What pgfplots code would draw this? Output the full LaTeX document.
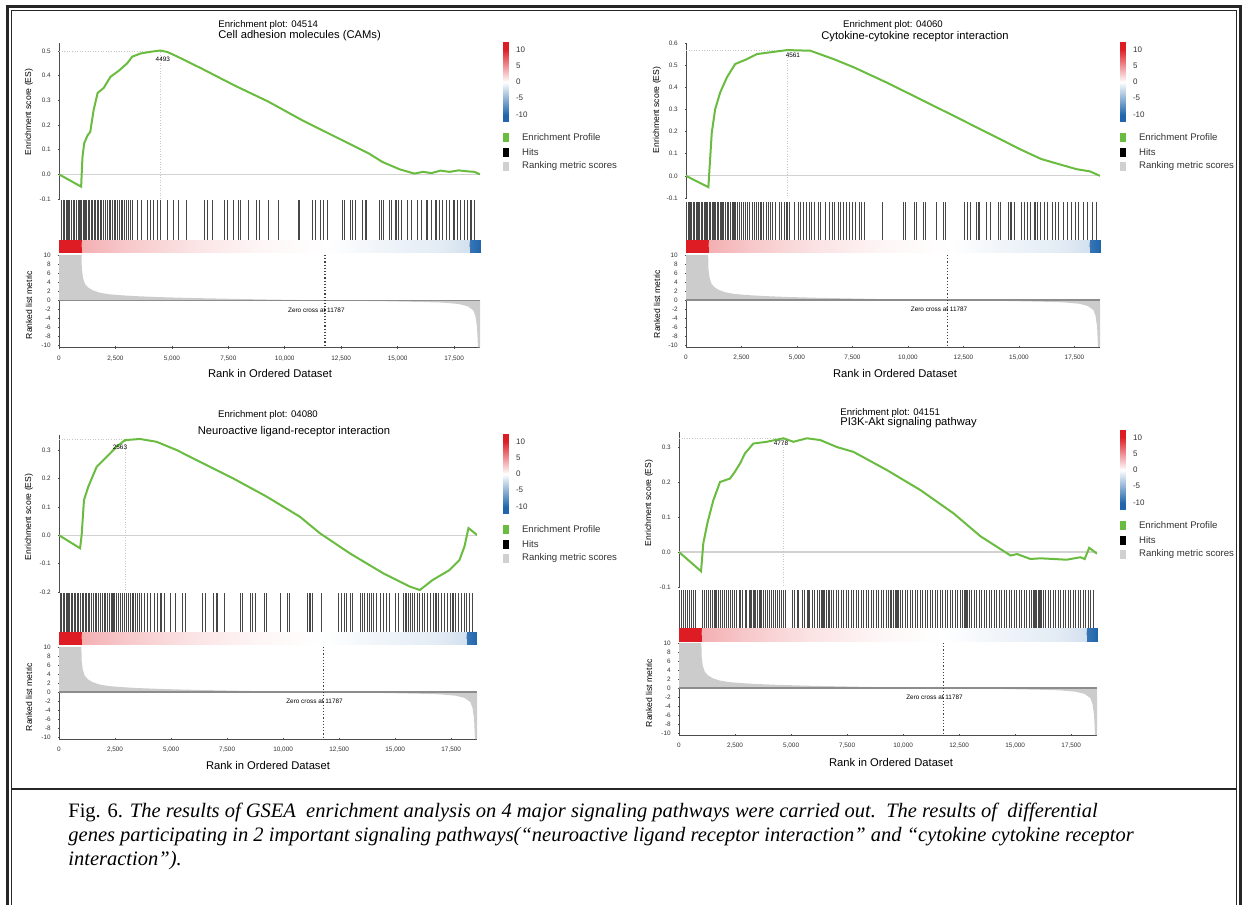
\documentclass[border=0pt]{standalone}
\usepackage{pgfplots}
\pgfplotsset{compat=1.18}
\usepackage{fontspec}
\setmainfont{Liberation Sans}
\newfontfamily\capfont{Liberation Serif}

\definecolor{esgreen}{RGB}{106,188,64}
\definecolor{rkgray}{RGB}{204,204,204}
\definecolor{swgray}{RGB}{208,208,208}

\newcommand{\tfs}{\fontsize{3.2}{3.8}\selectfont}
\newcommand{\lbf}{\fontsize{4.3}{5}\selectfont}
\newcommand{\tta}{\fontsize{4.8}{5.5}\selectfont}
\newcommand{\ttb}{\fontsize{5.6}{6.5}\selectfont}
\newcommand{\lgf}{\fontsize{4.8}{5.5}\selectfont}
\newcommand{\xlf}{\fontsize{5.6}{6.5}\selectfont}
\newcommand{\cpf}{\capfont\fontsize{10.25}{12}\selectfont}

\pgfplotsset{
  colormap={gsea}{rgb255(0cm)=(33,102,172); rgb255(1cm)=(255,255,255); rgb255(2cm)=(222,28,36)},
  noarrows/.style={axis line style={-},
    every outer x axis line/.append style={-}, every outer y axis line/.append style={-},
    every inner x axis line/.append style={-}, every inner y axis line/.append style={-}},
  base/.style={scale only axis, anchor=north west, enlargelimits=false, clip=true,
    /pgf/number format/assume math mode=true,
    tick label style={font=\tfs, text=black!80},
    axis line style={black!70, line width=0.35pt},
    tick style={black!70, line width=0.3pt},
    major tick length=1.2pt, tick align=outside,
    xmin=0, xmax=18650},
  es/.style={base, axis x line=none, axis y line=left, noarrows,
    yticklabel style={/pgf/number format/fixed, /pgf/number format/fixed zerofill,
      /pgf/number format/precision=1}},
  hits/.style={base, hide axis, ymin=0, ymax=1},
  rk/.style={base, axis lines=left, noarrows, ymin=-10.4, ymax=10, ytick={-10,-8,...,10},
    xtick={0,2500,...,17500}, scaled x ticks=false,
    xticklabel style={/pgf/number format/1000 sep={,}}},
  hitline/.style={ycomb, no marks, black!72, line width=0.55pt},
  % place an axis by the picture pixel (x from left, y from top) of its top left corner
  px/.style 2 args={at={({(#1)*0.5pt},{(905-(#2))*0.5pt})}},
}

% colour strip under the hits (values of the ranked metric, clipped at +-10)
\newcommand{\stripplot}{\addplot[patch, patch type=rectangle, shader=interp, point meta=explicit,
  point meta min=-10, point meta max=10] coordinates {
  (0,0)[10] (980,0)[10] (980,1)[10] (0,1)[10]
  (980,0)[10] (1030,0)[3.5] (1030,1)[3.5] (980,1)[10]
  (1030,0)[3.5] (3000,0)[2.4] (3000,1)[2.4] (1030,1)[3.5]
  (3000,0)[2.4] (6000,0)[1.2] (6000,1)[1.2] (3000,1)[2.4]
  (6000,0)[1.2] (9000,0)[0.4] (9000,1)[0.4] (6000,1)[1.2]
  (9000,0)[0.4] (11787,0)[0] (11787,1)[0] (9000,1)[0.4]
  (11787,0)[0] (14000,0)[-0.6] (14000,1)[-0.6] (11787,1)[0]
  (14000,0)[-0.6] (17000,0)[-1.3] (17000,1)[-1.3] (14000,1)[-0.6]
  (17000,0)[-1.3] (18150,0)[-2] (18150,1)[-2] (17000,1)[-1.3]
  (18150,0)[-2] (18220,0)[-9] (18220,1)[-9] (18150,1)[-2]
  (18220,0)[-9] (18650,0)[-10] (18650,1)[-10] (18220,1)[-9]};}

% ranked list metric
\newcommand{\metricplot}{%
  \addplot[fill=rkgray, draw=none] coordinates {(0,0) (0,10) (1000,10) (1010,7) (1060,5)
    (1150,3.6) (1300,2.8) (1500,2.2) (1800,1.7) (2200,1.35) (2800,1.1) (3500,0.9)
    (4500,0.7) (6000,0.5) (7500,0.35) (9000,0.2) (10500,0.08) (11787,0) (13000,-0.1)
    (14500,-0.2) (16000,-0.35) (17000,-0.5) (17700,-0.8) (18100,-1.3) (18350,-2.2)
    (18450,-3.5) (18520,-6) (18560,-10.4) (18650,-10.4) (18650,0)};
  \addplot[black!45, line width=0.6pt] coordinates {(0,0) (18650,0)};
  \addplot[black!75, densely dotted, line width=0.6pt] coordinates {(11787,10) (11787,-10.4)};
  \node[font=\tfs] at (axis cs:11400,-2.1) {Zero cross at 11787};}

% colour scale beside a panel
\newcommand{\cbar}[2]{%
  \begin{axis}[base, px={#1}{#2}, width=2.5pt, height=40pt, xmin=0, xmax=1,
    ymin=-12.3, ymax=12.3, axis x line=none, axis y line=right, noarrows,
    y axis line style={draw=none}, ytick={-10,-5,0,5,10},
    yticklabel style={font=\fontsize{4}{4.5}\selectfont}, major tick length=1pt]
  \addplot[patch, patch type=rectangle, shader=interp, point meta=explicit,
    point meta min=-10, point meta max=10] coordinates {
    (0,-12.3)[-10] (1,-12.3)[-10] (1,-10)[-10] (0,-10)[-10]
    (0,-10)[-10] (1,-10)[-10] (1,0)[0] (0,0)[0]
    (0,0)[0] (1,0)[0] (1,10)[10] (0,10)[10]
    (0,10)[10] (1,10)[10] (1,12.3)[10] (0,12.3)[10]};
  \end{axis}}
% legend entries below the colour scale (used inside the pixel scope)
\newcommand{\lgd}[2]{%
  \fill[esgreen] (#1,#2+91) rectangle ++(6,9);
  \fill[black] (#1,#2+106) rectangle ++(6,9);
  \fill[swgray] (#1,#2+120) rectangle ++(6,9);
  \node[anchor=west, font=\lgf, text=black!80] at (#1+12,#2+95.5) {Enrichment Profile};
  \node[anchor=west, font=\lgf, text=black!80] at (#1+12,#2+110.5) {Hits};
  \node[anchor=west, font=\lgf, text=black!80] at (#1+12,#2+124.5) {Ranking metric scores};}

\begin{document}
\begin{tikzpicture}
\useasboundingbox (0,0) rectangle (624pt,452.5pt);

% ---------------- panel 1: CAMs ----------------
\begin{axis}[es, px={59}{43}, width=210.5pt, height=78pt, ymin=-0.1, ymax=0.5325,
  ytick={-0.1,0,0.1,0.2,0.3,0.4,0.5}]
\addplot[gray!35, line width=0.6pt] coordinates {(0,0) (18650,0)};
\addplot[gray!45, densely dotted, line width=0.3pt] coordinates {(0,0.5) (4493,0.5)};
\addplot[gray!45, densely dotted, line width=0.3pt] coordinates {(4493,0.505) (4493,-0.1)};
\addplot[esgreen, line width=1pt] coordinates {(0,0) (980,-0.05) (1040,0.07) (1116,0.126)
  (1265,0.158) (1384,0.172) (1533,0.26) (1711,0.33) (1980,0.35) (2277,0.395) (2648,0.42)
  (3020,0.45) (3243,0.477) (3616,0.49) (4062,0.497) (4493,0.502) (4800,0.496) (5253,0.477)
  (6294,0.43) (7781,0.36) (9269,0.295) (10758,0.22) (12245,0.152) (13736,0.084) (14330,0.05)
  (15100,0.02) (15743,0.003) (16115,0.01) (16500,0.005) (16900,0.015) (17300,0.01)
  (17700,0.016) (18100,0.012) (18400,0.01) (18650,0.0)};
\node[font=\tfs] at (axis cs:4600,0.468) {4493};
\end{axis}
\begin{axis}[hits, px={59}{200}, width=210.5pt, height=20pt]
\addplot[hitline] coordinates {(120,1) (180,1) (260,1)
  (330,1) (400,1) (470,1) (560,1) (640,1) (700,1) (760,1) (850,1) (930,1) (1010,1) (1080,1)
  (1150,1) (1230,1) (1300,1) (1350,1) (1420,1) (1480,1) (1560,1) (1630,1) (1700,1) (1760,1)
  (1830,1) (1900,1) (1990,1) (2060,1) (2150,1) (2230,1) (2290,1) (2380,1) (2460,1) (2510,1)
  (2600,1) (2680,1) (2760,1) (2830,1) (2900,1) (2980,1) (3080,1) (3150,1) (3260,1) (3480,1)
  (3650,1) (3920,1) (4050,1) (4200,1) (4350,1) (4480,1) (4820,1) (5080,1) (5300,1) (5640,1)
  (6450,1) (6580,1) (6800,1) (7350,1) (7480,1) (7730,1) (7950,1) (8050,1) (8400,1) (8760,1)
  (8870,1) (9290,1) (9740,1) (10630,1) (11230,1) (11380,1) (11600,1) (11700,1) (11900,1)
  (12550,1) (12660,1) (12920,1) (13020,1) (13120,1) (13450,1) (13600,1) (14180,1) (14280,1)
  (14380,1) (14640,1) (14740,1) (14930,1) (15050,1) (15180,1) (15450,1) (15600,1) (15900,1)
  (16050,1) (16300,1) (16500,1) (16700,1) (16850,1) (17000,1) (17150,1) (17300,1) (17500,1)
  (17650,1) (17800,1) (17950,1) (18100,1) (18250,1) (18400,1)};
\end{axis}
\begin{axis}[hits, px={59}{240}, width=210.5pt, height=6.5pt]
\stripplot
\end{axis}
\begin{axis}[rk, px={59}{255}, width=210.5pt, height=46.25pt]
\metricplot
\end{axis}
\cbar{503}{42}

% ---------------- panel 2: cytokine ----------------
\begin{axis}[es, px={686}{43}, width=207pt, height=77.5pt, ymin=-0.1, ymax=0.6,
  ytick={-0.1,0,0.1,0.2,0.3,0.4,0.5,0.6}]
\addplot[gray!35, line width=0.6pt] coordinates {(0,0) (18650,0)};
\addplot[gray!45, densely dotted, line width=0.3pt] coordinates {(0,0.568) (4561,0.568)};
\addplot[gray!45, densely dotted, line width=0.3pt] coordinates {(4561,0.57) (4561,-0.1)};
\addplot[esgreen, line width=1pt] coordinates {(0,0) (1008,-0.051) (1160,0.194) (1311,0.3)
  (1537,0.376) (1838,0.444) (2215,0.505) (2743,0.527) (3195,0.55) (3797,0.558) (4561,0.568)
  (5604,0.565) (6658,0.527) (7562,0.49) (9069,0.42) (10575,0.345) (12082,0.27) (13589,0.194)
  (15096,0.118) (15999,0.076) (16900,0.05) (17600,0.03) (18200,0.02) (18650,0.0)};
\node[font=\tfs] at (axis cs:4814,0.545) {4561};
\end{axis}
\begin{axis}[hits, px={686}{202}, width=207pt, height=19pt]
\addplot[hitline] coordinates {(40,1) (110,1) (180,1)
  (260,1) (330,1) (400,1) (470,1) (540,1) (610,1) (690,1) (760,1) (830,1) (900,1) (980,1)
  (1050,1) (1120,1) (1190,1) (1260,1) (1330,1) (1400,1) (1480,1) (1550,1) (1620,1) (1700,1)
  (1780,1) (1850,1) (1930,1) (2000,1) (2080,1) (2160,1) (2240,1) (2330,1) (2420,1) (2500,1)
  (2600,1) (2700,1) (2790,1) (2880,1) (2980,1) (3080,1) (3180,1) (3280,1) (3380,1) (3500,1)
  (3620,1) (3700,1) (3800,1) (3900,1) (4050,1) (4200,1) (4300,1) (4420,1) (4550,1) (4650,1)
  (4900,1) (5050,1) (5150,1) (5300,1) (5420,1) (5550,1) (5650,1) (5800,1) (5950,1) (6050,1)
  (6300,1) (6450,1) (6600,1) (6700,1) (6850,1) (6950,1) (7100,1) (7250,1) (7350,1) (7500,1)
  (7650,1) (7800,1) (7900,1) (8050,1) (8870,1) (9800,1) (9880,1) (10300,1) (10400,1)
  (10680,1) (10790,1) (11290,1) (11580,1) (11690,1) (12560,1) (12680,1) (12800,1) (13080,1)
  (13200,1) (13540,1) (13700,1) (14060,1) (14170,1) (14520,1) (14640,1) (14780,1) (15120,1)
  (15250,1) (15400,1) (15530,1) (15720,1) (15850,1) (15980,1) (16150,1) (16300,1) (16500,1)
  (16650,1) (16800,1) (17000,1) (17200,1) (17350,1) (17550,1) (17700,1) (17900,1) (18100,1)
  (18300,1) (18500,1)};
\end{axis}
\begin{axis}[hits, px={686}{240}, width=207pt, height=6.5pt]
\stripplot
\end{axis}
\begin{axis}[rk, px={686}{255}, width=207pt, height=46pt]
\metricplot
\end{axis}
\cbar{1120}{42}

% ---------------- panel 3: neuroactive ----------------
\begin{axis}[es, px={59}{435}, width=209pt, height=78.5pt, ymin=-0.2, ymax=0.353,
  ytick={-0.2,-0.1,0,0.1,0.2,0.3}]
\addplot[gray!35, line width=0.6pt] coordinates {(0,0) (18650,0)};
\addplot[gray!45, densely dotted, line width=0.3pt] coordinates {(0,0.339) (2944,0.339)};
\addplot[gray!45, densely dotted, line width=0.3pt] coordinates {(2944,0.34) (2944,-0.2)};
\addplot[esgreen, line width=1pt] coordinates {(0,0) (940,-0.046) (1010,0.0) (1115,0.124)
  (1307,0.171) (1681,0.241) (2127,0.276) (2573,0.312) (2944,0.335) (3613,0.339)
  (4357,0.329) (5249,0.3) (6275,0.259) (7774,0.2) (9263,0.136) (10749,0.065) (11641,0.007)
  (12979,-0.064) (14464,-0.134) (15655,-0.181) (16101,-0.193) (16665,-0.158) (17420,-0.123)
  (17870,-0.087) (18090,-0.04) (18270,0.025) (18540,0.008) (18650,0.0)};
\node[font=\tfs] at (axis cs:2720,0.31) {2563};
\end{axis}
\begin{axis}[hits, px={59}{593}, width=209pt, height=19.5pt]
\addplot[hitline] coordinates {(50,1) (120,1) (190,1)
  (260,1) (330,1) (400,1) (470,1) (540,1) (610,1) (680,1) (750,1) (820,1) (890,1) (960,1)
  (1030,1) (1100,1) (1170,1) (1240,1) (1310,1) (1380,1) (1450,1) (1530,1) (1610,1) (1690,1)
  (1770,1) (1850,1) (1930,1) (2010,1) (2090,1) (2170,1) (2250,1) (2330,1) (2410,1) (2490,1)
  (2570,1) (2660,1) (2750,1) (2840,1) (2930,1) (3020,1) (3110,1) (3200,1) (3300,1) (3400,1)
  (3500,1) (3600,1) (3700,1) (3800,1) (3950,1) (4100,1) (4250,1) (4400,1) (4550,1) (4700,1)
  (4980,1) (5200,1) (5500,1) (5650,1) (6400,1) (6550,1) (6900,1) (7050,1) (7400,1) (8100,1)
  (8200,1) (8550,1) (8650,1) (8780,1) (9150,1) (9240,1) (9900,1) (10180,1) (10290,1)
  (11080,1) (11200,1) (11320,1) (11700,1) (12480,1) (12600,1) (12720,1) (12820,1) (13000,1)
  (13100,1) (13450,1) (13550,1) (13650,1) (13750,1) (13850,1) (13950,1) (14050,1) (14150,1)
  (14350,1) (14480,1) (14600,1) (14740,1) (15000,1) (15150,1) (15380,1) (15480,1) (15580,1)
  (15680,1) (15780,1) (15880,1) (15980,1) (16080,1) (16200,1) (16320,1) (16450,1) (16580,1)
  (16700,1) (16820,1) (16950,1) (17080,1) (17200,1) (17320,1) (17450,1) (17580,1) (17700,1)
  (17830,1) (17950,1) (18080,1) (18200,1) (18330,1) (18450,1)};
\end{axis}
\begin{axis}[hits, px={59}{632}, width=209pt, height=6.5pt]
\stripplot
\end{axis}
\begin{axis}[rk, px={59}{647}, width=209pt, height=46pt]
\metricplot
\end{axis}
\cbar{503}{434}

% ---------------- panel 4: PI3K-Akt ----------------
\begin{axis}[es, px={679}{432}, width=209pt, height=77.5pt, ymin=-0.1, ymax=0.343,
  ytick={-0.1,0,0.1,0.2,0.3}]
\addplot[gray!35, line width=0.6pt] coordinates {(0,0) (18650,0)};
\addplot[gray!45, densely dotted, line width=0.3pt] coordinates {(0,0.325) (4660,0.325)};
\addplot[gray!45, densely dotted, line width=0.3pt] coordinates {(4660,0.33) (4660,-0.1)};
\addplot[esgreen, line width=1pt] coordinates {(0,0) (983,-0.055) (1085,0.025) (1264,0.082)
  (1532,0.148) (1830,0.2) (2277,0.21) (2500,0.23) (2723,0.253) (2946,0.282) (3318,0.31)
  (3915,0.315) (4660,0.325) (5107,0.315) (5704,0.325) (6300,0.32) (7045,0.3) (7790,0.286)
  (9280,0.234) (10770,0.177) (12258,0.11) (13450,0.045) (14790,-0.01) (15090,-0.006)
  (15680,-0.02) (16130,-0.018) (16700,-0.02) (17300,-0.022) (17900,-0.015) (18100,-0.02)
  (18300,0.012) (18450,0.005) (18650,-0.005)};
\node[font=\tfs] at (axis cs:4550,0.31) {4778};
\end{axis}
\begin{axis}[hits, px={679}{590}, width=209pt, height=19pt]
\addplot[hitline] coordinates {(30,1) (110,1) (200,1) (290,1) (380,1) (470,1) (560,1)
  (650,1) (740,1) (1050,1) (1120,1) (1230,1) (1300,1) (1410,1) (1480,1) (1590,1) (1650,1)
  (1770,1) (1840,1) (1950,1) (2010,1) (2130,1) (2220,1) (2280,1) (2400,1) (2470,1) (2580,1)
  (2690,1) (2760,1) (2850,1) (2970,1) (3030,1) (3150,1) (3210,1) (3330,1) (3390,1) (3500,1)
  (3600,1) (3660,1) (3780,1) (3840,1) (3950,1) (4040,1) (4110,1) (4230,1) (4290,1) (4400,1)
  (4480,1) (4560,1) (4680,1) (4740,1) (5060,1) (5150,1) (5280,1) (5350,1) (5500,1) (5580,1)
  (5720,1) (5800,1) (5940,1) (6030,1) (6160,1) (6250,1) (6380,1) (6470,1) (6600,1) (6690,1)
  (6820,1) (6900,1) (7040,1) (7130,1) (7260,1) (7350,1) (7480,1) (7570,1) (7700,1) (7800,1)
  (7920,1) (8010,1) (8140,1) (8230,1) (8360,1) (8450,1) (8580,1) (8670,1) (8800,1) (8890,1)
  (9020,1) (9110,1) (9240,1) (9330,1) (9460,1) (9550,1) (9680,1) (9770,1) (9900,1) (9990,1)
  (10120,1) (10210,1) (10340,1) (10430,1) (10560,1) (10650,1) (10780,1) (10870,1) (11000,1)
  (11090,1) (11220,1) (11310,1) (11440,1) (11530,1) (11660,1) (11750,1) (11880,1) (11970,1)
  (12100,1) (12190,1) (12320,1) (12410,1) (12540,1) (12630,1) (12760,1) (12850,1) (12980,1)
  (13070,1) (13200,1) (13290,1) (13420,1) (13510,1) (13640,1) (13730,1) (13860,1) (13950,1)
  (14080,1) (14170,1) (14300,1) (14390,1) (14520,1) (14610,1) (14740,1) (14830,1) (14960,1)
  (15050,1) (15180,1) (15270,1) (15400,1) (15490,1) (15620,1) (15710,1) (15840,1) (15930,1)
  (16060,1) (16150,1) (16280,1) (16370,1) (16500,1) (16590,1) (16720,1) (16810,1) (16940,1)
  (17030,1) (17160,1) (17250,1) (17380,1) (17470,1) (17600,1) (17690,1) (17820,1) (17910,1)
  (18040,1) (18130,1) (18260,1) (18350,1) (18480,1)};
\end{axis}
\begin{axis}[hits, px={679}{628}, width=209pt, height=7pt]
\stripplot
\end{axis}
\begin{axis}[rk, px={679}{643}, width=209pt, height=46pt]
\metricplot
\end{axis}
\cbar{1120}{430}

% ---------------- texts and frame, in picture pixels ----------------
\begin{scope}[shift={(0pt,452.5pt)}, x=0.5pt, y=-0.5pt]
\draw[line width=1.5pt, black!85] (7.5,905) -- (7.5,6.5) -- (1240.5,6.5) -- (1240.5,905);
\draw[line width=0.5pt, black!85] (11.5,905) -- (11.5,10.5) -- (1236.5,10.5) -- (1236.5,905);
\draw[line width=0.65pt, black!85] (11.5,789) -- (1236.5,789);

\node[rotate=90, font=\lbf] at (29,112) {Enrichment score (ES)};
\node[rotate=90, font=\lbf] at (29,305) {Ranked list metric};
\node[font=\xlf] at (270,374) {Rank in Ordered Dataset};
\node[anchor=west, inner sep=0pt, font=\tta] at (218,25) {Enrichment plot: 04514};
\node[anchor=west, inner sep=0pt, font=\ttb] at (218,35.5) {Cell adhesion molecules (CAMs)};
\lgd{503}{42}

\node[rotate=90, font=\lbf] at (657,110) {Enrichment score (ES)};
\node[rotate=90, font=\lbf] at (657,304) {Ranked list metric};
\node[font=\xlf] at (895,374) {Rank in Ordered Dataset};
\node[font=\tta] at (893,25) {Enrichment plot: 04060};
\node[font=\ttb] at (915,36.5) {Cytokine-cytokine receptor interaction};
\lgd{1120}{42}

\node[rotate=90, font=\lbf] at (29,517) {Enrichment score (ES)};
\node[rotate=90, font=\lbf] at (29,697) {Ranked list metric};
\node[font=\xlf] at (268,765) {Rank in Ordered Dataset};
\node[font=\tta] at (268,415) {Enrichment plot: 04080};
\node[font=\ttb] at (294,432) {Neuroactive ligand-receptor interaction};
\lgd{503}{434}

\node[rotate=90, font=\lbf] at (649,503) {Enrichment score (ES)};
\node[rotate=90, font=\lbf] at (649,693) {Ranked list metric};
\node[font=\xlf] at (891,763) {Rank in Ordered Dataset};
\node[anchor=west, inner sep=0pt, font=\tta] at (840,413) {Enrichment plot: 04151};
\node[anchor=west, inner sep=0pt, font=\ttb] at (840,423) {PI3K-Akt signaling pathway};
\lgd{1120}{430}

\node[anchor=west, inner sep=0pt, font=\cpf] at (68,812)
  {Fig. 6. \textit{The results of GSEA\ \ enrichment analysis on 4 major signaling pathways were carried out.\ \ The results of\ \ differential}};
\node[anchor=west, inner sep=0pt, font=\cpf] at (68,837)
  {\textit{genes participating in 2 important signaling pathways(“neuroactive ligand receptor interaction” and “cytokine cytokine receptor}};
\node[anchor=west, inner sep=0pt, font=\cpf] at (68,861)
  {\textit{interaction”).}};
\end{scope}
\end{tikzpicture}
\end{document}
